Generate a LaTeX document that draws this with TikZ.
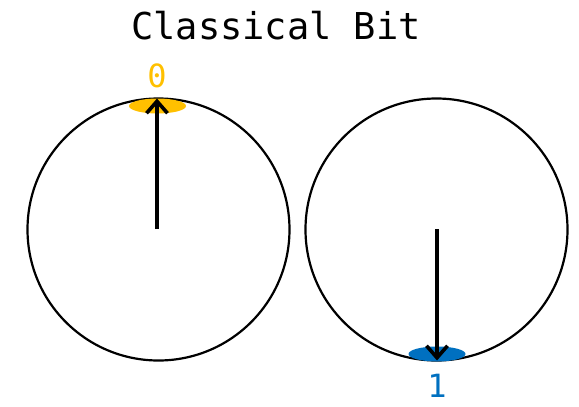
\documentclass[tikz,border=0pt]{standalone}
\usepackage{fontspec}
\setmonofont{DejaVu Sans Mono}
\usepackage{tikz}
\usetikzlibrary{arrows.meta, positioning, shapes.geometric}
\definecolor{zerocol}{HTML}{FFC000}
\definecolor{onecol}{HTML}{0070C0}
\tikzstyle{bitcircle} = [circle, draw, line width=2.2pt, minimum size=262pt,
  inner sep=0pt, outer sep=0pt]
\tikzstyle{state} = [ellipse, minimum width=57pt, minimum height=15pt,
  inner sep=0pt]
\tikzstyle{vec} = [line width=4.2pt, -{Straight Barb[length=12pt, width=21pt, line width=3.6pt]}]
\tikzstyle{lbl} = [font=\fontsize{32}{32}\selectfont\ttfamily, inner sep=0pt]

\begin{document}
\begin{tikzpicture}[x=1pt, y=-1pt]
    \useasboundingbox (0,0) rectangle (579,407);
    \node[font=\fontsize{37}{37}\selectfont\ttfamily] (title) at (276,26) {Classical Bit};
    \node[bitcircle] (left) at (158.5,229.5) {};
    \node[bitcircle] (right) at (436.5,229.5) {};
    \node[state, fill=zerocol] (zero) at (157.5,106) {};
    \node[state, fill=onecol] (one) at (437,354) {};
    \node[lbl, text=zerocol] (zerolbl) at (157,76) {0};
    \node[lbl, text=onecol, below=12pt of one] (onelbl) {1};
    \coordinate (lc) at (157,229);
    \coordinate (rc) at (437,229);
    \draw[vec] (lc) -- (lc |- left.north);
    \draw[vec] (rc) -- (rc |- right.south);
\end{tikzpicture}
\end{document}
